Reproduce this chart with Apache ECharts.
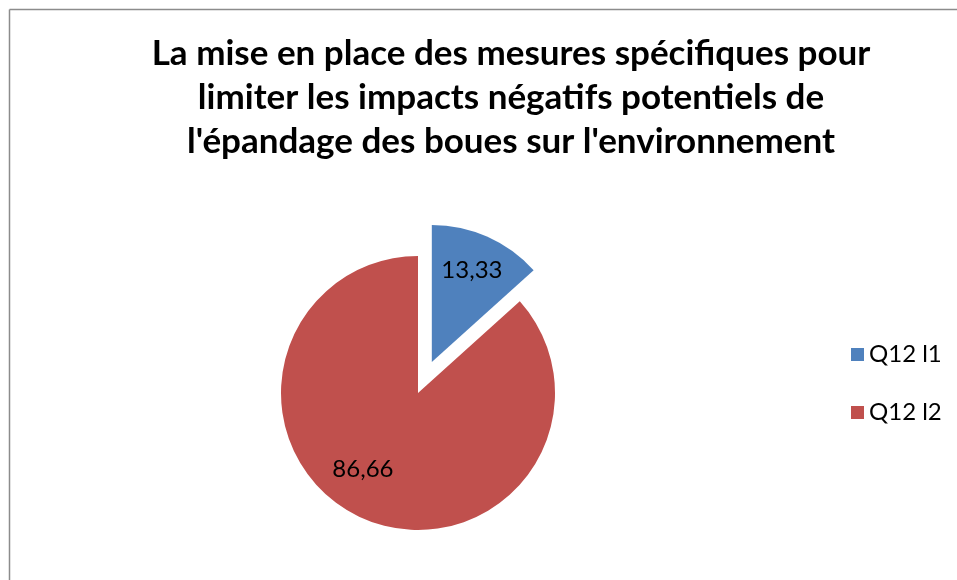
<!DOCTYPE html>
<html><head><meta charset="utf-8">
<script src="https://cdn.jsdelivr.net/npm/echarts@6/dist/echarts.min.js"></script>
<style>html,body{margin:0;padding:0;background:#fff}#c{width:957px;height:580px}</style>
</head><body><div id="c"></div>
<script>
const titleLines = ["La mise en place des mesures spécifiques pour","limiter les impacts négatifs potentiels de","l'épandage des boues sur l'environnement"];
const categories = ["Q12 l1","Q12 l2"];
const values = [13.33, 86.66];
const valueLabels = ["13,33","86,66"];
const colors = ["#4F81BD","#C0504D"];

const labelOffsets = [[11,-26],[-26,11]];
const chart = echarts.init(document.getElementById('c'), null, {renderer:'canvas'});
chart.setOption({
  backgroundColor:'#fff',
  animation:false,
  title:{
    text: titleLines.join('\n'),
    left: 506, top: 27, textAlign:'center',
    textStyle:{fontFamily:'Lato', fontWeight:'bold', fontSize:35, lineHeight:44, color:'#000'}
  },
  legend:{
    orient:'vertical', left:846, top:337.5,
    itemWidth:13, itemHeight:13, itemGap:34, icon:'rect',
    textStyle:{fontFamily:'Lato', fontSize:24, color:'#000', lineHeight:20},
    selectedMode:false,
    data: categories
  },
  graphic:[
    {type:'line', shape:{x1:9.5,y1:9.5,x2:957,y2:9.5}, style:{stroke:'#8c8c8c', lineWidth:1.5}},
    {type:'line', shape:{x1:9.5,y1:9.5,x2:9.5,y2:580}, style:{stroke:'#8c8c8c', lineWidth:1.5}}
  ],
  series:[{
    type:'pie',
    center:[418,393], radius:[0,137],
    startAngle:90, clockwise:true,
    selectedMode:'multiple', selectedOffset:34,
    label:{show:true, position:'inside', fontFamily:'Lato', fontSize:24, color:'#000',
      formatter: p => valueLabels[p.dataIndex]},
    labelLine:{show:false},
    emphasis:{disabled:true},
    data: categories.map((c,i)=>({
      name:c, value:values[i], selected: i===0,
      itemStyle:{color:colors[i]},
      label:{offset: labelOffsets[i]},
      select:{label:{offset: labelOffsets[i]}, itemStyle:{color:colors[i]}}
    }))
  }]
});
</script></body></html>
